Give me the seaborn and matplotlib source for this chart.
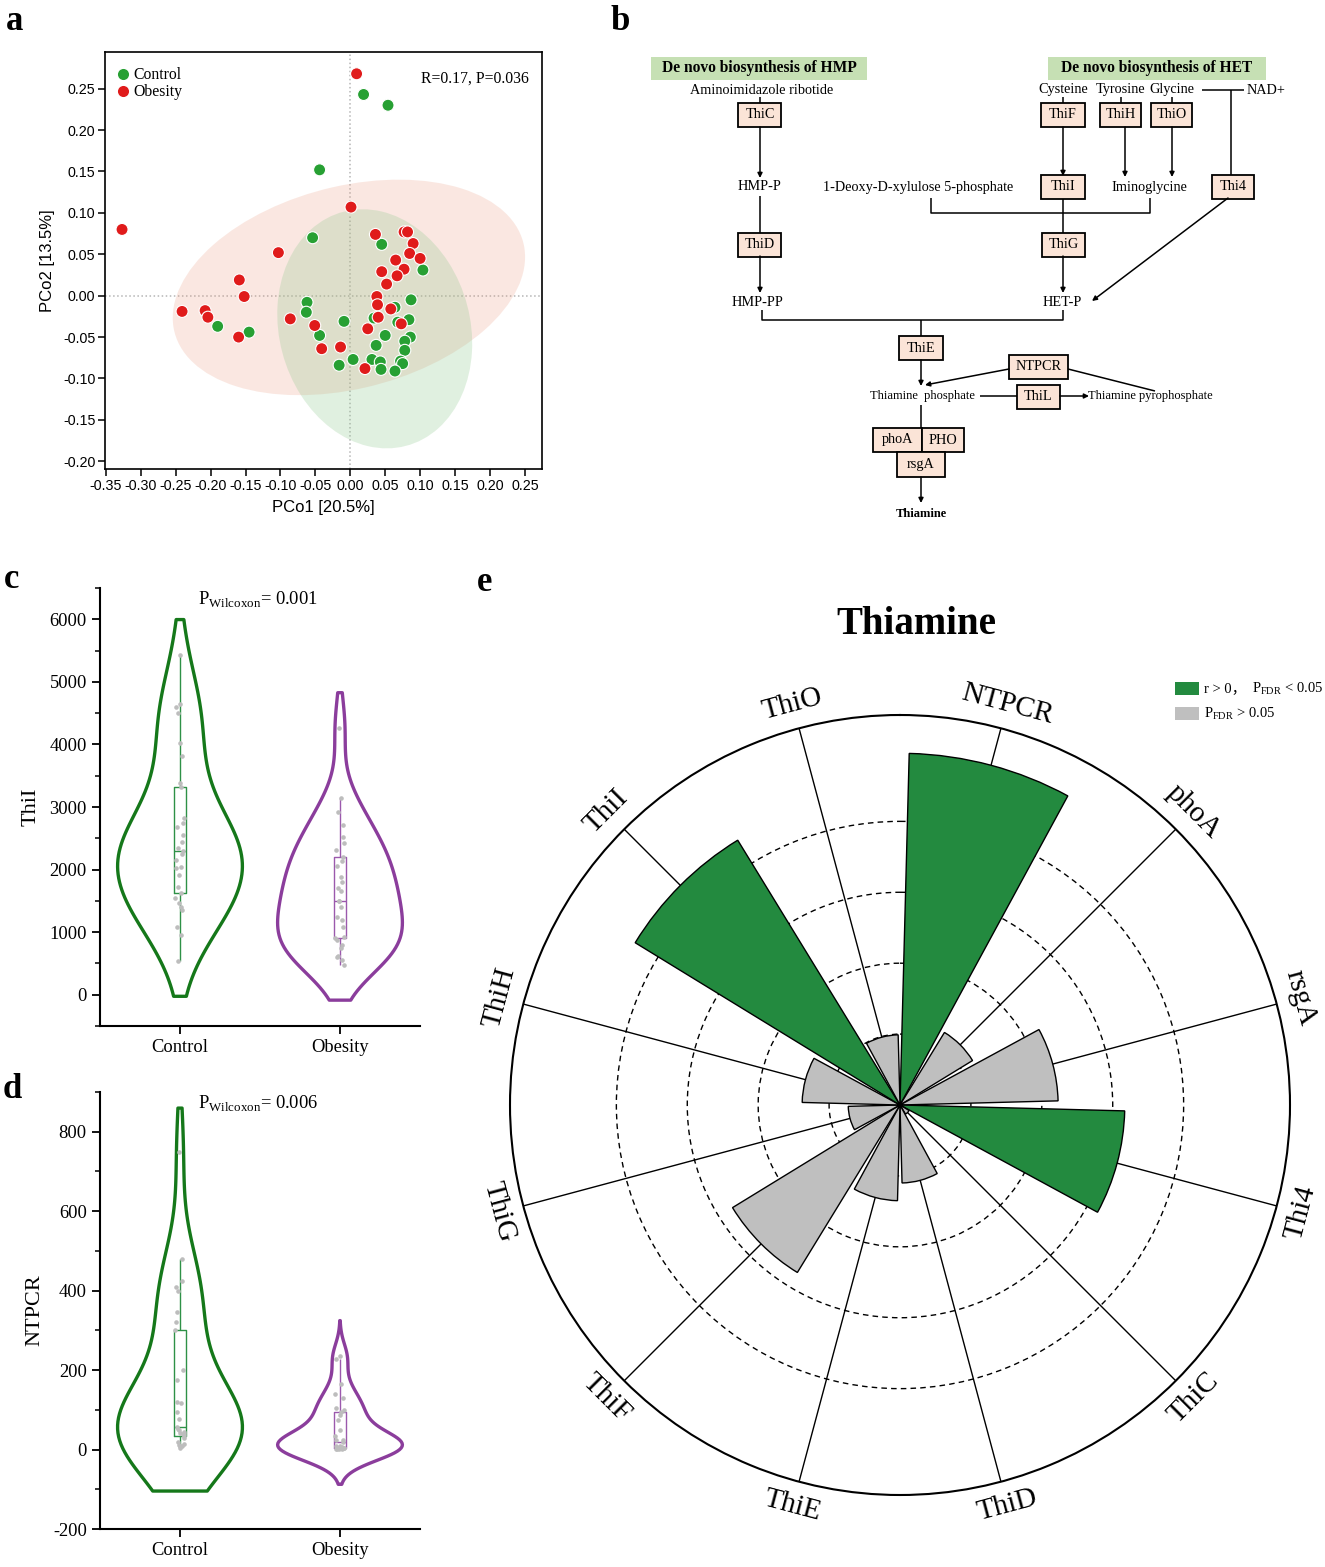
import numpy as np
import pandas as pd
import matplotlib
matplotlib.use("Agg")
import matplotlib.pyplot as plt
import seaborn as sns
from matplotlib.patches import Ellipse, Rectangle
from matplotlib.lines import Line2D
from matplotlib.ticker import MultipleLocator
from matplotlib.offsetbox import AnchoredOffsetbox, HPacker, VPacker, TextArea, DrawingArea

# ---- panel a: PCoA coordinates ----
pc1_control = [0.019, 0.054, -0.044, -0.054, 0.045, 0.104, 0.087, -0.062, -0.063, 0.064,
               0.034, -0.009, 0.068, 0.084, -0.190, -0.145, -0.044, 0.050, 0.086, 0.078,
               0.037, 0.078, -0.016, 0.004, 0.031, 0.043, 0.044, 0.072, 0.075, 0.064]
pc2_control = [0.243, 0.230, 0.152, 0.070, 0.062, 0.031, -0.005, -0.008, -0.020, -0.014,
               -0.027, -0.031, -0.032, -0.029, -0.037, -0.044, -0.048, -0.048, -0.050, -0.055,
               -0.060, -0.066, -0.084, -0.077, -0.077, -0.080, -0.089, -0.079, -0.082, -0.091]
pc1_obesity = [0.009, 0.001, -0.327, 0.036, 0.077, 0.082, 0.090, -0.103, 0.085, 0.100,
               0.065, 0.045, 0.077, 0.067, 0.052, -0.159, -0.152, 0.038, 0.039, 0.058,
               0.040, -0.241, -0.208, -0.204, -0.086, -0.051, 0.025, 0.073, -0.160, -0.041,
               -0.014, 0.021]
pc2_obesity = [0.268, 0.107, 0.080, 0.074, 0.077, 0.077, 0.063, 0.052, 0.051, 0.045,
               0.043, 0.029, 0.032, 0.024, 0.014, 0.019, -0.001, -0.001, -0.011, -0.016,
               -0.026, -0.019, -0.018, -0.026, -0.028, -0.036, -0.040, -0.034, -0.050, -0.064,
               -0.062, -0.088]
# confidence ellipses (centre and covariance in PCo units)
ell_center = {"Obesity": (-0.002, 0.010), "Control": (0.035, -0.040)}
ell_cov = {"Obesity": [[0.06369, 0.009269], [0.009269, 0.016937]],
           "Control": [[0.019491, -0.002473], [-0.002473, 0.020843]]}

# ---- panels c / d: gene abundance per sample ----
groups = ["Control", "Obesity"]
thiI_control = [540, 950, 1090, 1350, 1400, 1460, 1540, 1620, 1720, 1920, 2020, 2040, 2150,
                2250, 2300, 2340, 2440, 2550, 2680, 2750, 2820, 3320, 3380, 3820, 4030, 4500,
                4600, 4650, 5430]
thiI_obesity = [470, 560, 600, 620, 740, 790, 870, 900, 930, 1080, 1190, 1250, 1400, 1490,
                1500, 1650, 1700, 1800, 1880, 2050, 2130, 2200, 2310, 2420, 2520, 2710, 2920,
                3140, 4270]
ntpcr_control = [5, 8, 10, 12, 15, 20, 30, 35, 38, 40, 42, 45, 48, 52, 56, 78, 95, 118, 120,
                 175, 200, 300, 320, 345, 400, 410, 425, 480, 750]
ntpcr_obesity = [1, 1, 2, 2, 3, 3, 4, 4, 5, 5, 5, 6, 8, 10, 20, 23, 25, 35, 50, 75, 88, 95,
                 100, 105, 130, 140, 165, 228, 236]

# ---- panel e: correlation with thiamine ----
genes = ["NTPCR", "phoA", "rsgA", "Thi4", "ThiC", "ThiD", "ThiE", "ThiF", "ThiG", "ThiH",
         "ThiI", "ThiO"]
corr_r = [0.496, 0.120, 0.223, 0.317, 0.015, 0.110, 0.135, 0.277, 0.073, 0.138, 0.438, 0.099]
significant = [True, False, False, True, False, False, False, False, False, False, True, False]

W, H = 1325, 1567
GREEN_PT, RED_PT = "#27a033", "#e01b1b"
VIO_GREEN, VIO_PURPLE = "#15781a", "#8b3d9c"
BOX_GREEN, BOX_PURPLE = "#2e9147", "#9b59ad"
BAR_GREEN, BAR_GRAY = "#238a3f", "#bfbfbf"

sns.set_theme(style="ticks")
plt.rcParams["font.family"] = ["Liberation Serif", "Noto Sans CJK SC"]
plt.rcParams["axes.unicode_minus"] = False
plt.rcParams["mathtext.fontset"] = "custom"
plt.rcParams["mathtext.rm"] = "Liberation Serif"
for key in ("text.color", "axes.labelcolor", "xtick.color", "ytick.color", "axes.edgecolor"):
    plt.rcParams[key] = "black"

fig = plt.figure(figsize=(W / 100, H / 100), dpi=100)
fig.patch.set_facecolor("white")


def fax(x0, y0, x1, y1, **kw):
    return fig.add_axes([x0 / W, 1 - y1 / H, (x1 - x0) / W, (y1 - y0) / H], **kw)


# ================= a =================
ax_a = fax(105, 52, 542, 469)
fill = {"Obesity": ("#e9967a", 0.22), "Control": ("#8fc98f", 0.27)}
for grp in ["Obesity", "Control"]:
    vals, vecs = np.linalg.eigh(np.array(ell_cov[grp]))
    ang = np.degrees(np.arctan2(vecs[1, 1], vecs[0, 1]))
    ax_a.add_patch(Ellipse(ell_center[grp], 2 * np.sqrt(vals[1]), 2 * np.sqrt(vals[0]),
                           angle=ang, facecolor=fill[grp][0], alpha=fill[grp][1],
                           edgecolor="none", zorder=1))
df_pcoa = pd.DataFrame({
    "PCo1": pc1_control + pc1_obesity,
    "PCo2": pc2_control + pc2_obesity,
    "Group": ["Control"] * len(pc1_control) + ["Obesity"] * len(pc1_obesity)})
sns.scatterplot(data=df_pcoa, x="PCo1", y="PCo2", hue="Group",
                palette={"Control": GREEN_PT, "Obesity": RED_PT}, s=75,
                edgecolor="white", linewidth=0.8, legend=False, ax=ax_a, zorder=3)
ax_a.axvline(0, color="#b5b5b5", ls=":", lw=1.1, zorder=0.5)
ax_a.axhline(0, color="#b5b5b5", ls=":", lw=1.1, zorder=0.5)
ax_a.set_xlim(-0.3514, 0.2746)
ax_a.set_ylim(-0.2093, 0.2943)
xt = np.round(np.arange(-7, 6) * 0.05, 2)
yt = np.round(np.arange(-4, 6) * 0.05, 2)
ax_a.set_xticks(xt)
ax_a.set_xticklabels([f"{v:.2f}" for v in xt], family="Liberation Sans", fontsize=10.3)
ax_a.set_yticks(yt)
ax_a.set_yticklabels([f"{v:.2f}" for v in yt], family="Liberation Sans", fontsize=10.3)
ax_a.tick_params(length=5, width=1.1, pad=2, colors="black")
for sp in ax_a.spines.values():
    sp.set_linewidth(1.2)
    sp.set_color("black")
ax_a.set_xlabel("PCo1 [20.5%]", family="Liberation Sans", fontsize=12, labelpad=5)
ax_a.set_ylabel("PCo2 [13.5%]", family="Liberation Sans", fontsize=12, labelpad=6)
handles = [Line2D([], [], marker="o", ls="", markersize=9, markerfacecolor=c,
                  markeredgecolor="white") for c in (GREEN_PT, RED_PT)]
ax_a.legend(handles, groups, loc="upper left", bbox_to_anchor=(0.01, 0.975),
            frameon=False, fontsize=11.3, handletextpad=0.05, borderaxespad=0.0,
            labelspacing=0.08, handlelength=1.2, borderpad=0.3)
ax_a.text(0.97, 0.935, "R=0.17, P=0.036", transform=ax_a.transAxes, ha="right",
          va="center", fontsize=11.3)

# ================= b =================
ax_b = fax(600, 40, 1325, 540)
ax_b.set_xlim(600, 1325)
ax_b.set_ylim(540, 40)
ax_b.axis("off")
FS = 10.3


def gene_box(cx, cy, label, w=43, h=24):
    ax_b.add_patch(Rectangle((cx - w / 2, cy - h / 2), w, h, facecolor="#fbe4d7",
                             edgecolor="black", lw=1.3, zorder=2))
    ax_b.text(cx, cy, label, ha="center", va="center", fontsize=FS, zorder=3)


def line(xs, ys):
    ax_b.plot(xs, ys, color="black", lw=1.1, zorder=1, solid_capstyle="butt")


def arrow(x1, y1, x2, y2):
    ax_b.annotate("", xy=(x2, y2), xytext=(x1, y1),
                  arrowprops=dict(arrowstyle="-|>", color="black", lw=1.1,
                                  mutation_scale=7, shrinkA=0, shrinkB=0))


def label(x, y, s, ha="center", **kw):
    ax_b.text(x, y, s, ha=ha, va="center", fontsize=kw.pop("fs", FS), **kw)


for x0, w, s in [(651, 216, "De novo biosynthesis of HMP"), (1048, 218, "De novo biosynthesis of HET")]:
    ax_b.add_patch(Rectangle((x0, 57), w, 23, facecolor="#c6e0b4", edgecolor="none"))
    label(x0 + w / 2, 68.5, s, fs=11.2, fontweight="bold")

label(762, 90, "Aminoimidazole ribotide")
line([760, 760], [97, 103])
gene_box(760, 115, "ThiC")
arrow(760, 127, 760, 178)
label(760, 187, "HMP-P")
line([760, 760], [196, 233])
gene_box(760, 244.5, "ThiD")
arrow(760, 256, 760, 293)
label(758, 302, "HMP-PP")
line([762, 762, 1063, 1063], [310, 320, 320, 310])
line([921, 921], [320, 336])
gene_box(921, 348, "ThiE", w=44)
arrow(921, 360, 921, 386)
label(922, 396, "Thiamine  phosphate", fs=9)
gene_box(1038.5, 367, "NTPCR", w=59)
arrow(1009, 369, 925, 385)
line([1068, 1155], [369, 391])
line([980, 1017], [396, 396])
gene_box(1038.5, 397, "ThiL")
arrow(1060, 396, 1089, 396)
label(1088, 396, "Thiamine pyrophosphate", ha="left", fs=9)
line([921, 921], [405, 428])
gene_box(897.5, 440, "phoA", w=49)
gene_box(943, 440, "PHO", w=42)
gene_box(921, 464.5, "rsgA", w=48, h=25)
arrow(921, 477, 921, 503)
label(921, 514, "Thiamine", fs=9, fontweight="bold")

for cx, s in [(1063, "Cysteine"), (1121, "Tyrosine"), (1172, "Glycine")]:
    label(cx, 90, s)
    line([cx, cx], [97, 103])
gene_box(1063, 115, "ThiF", w=44)
gene_box(1121, 115, "ThiH", w=41)
gene_box(1172, 115, "ThiO", w=41)
arrow(1063, 127, 1063, 176)
arrow(1125, 127, 1125, 177)
arrow(1172, 127, 1172, 177)
line([1202, 1244], [90, 90])
label(1247, 90, "NAD+", ha="left")
line([1231, 1231], [90, 175])
gene_box(1233, 186.5, "Thi4", w=42)
arrow(1228, 198, 1092, 301)
label(918, 187, "1-Deoxy-D-xylulose 5-phosphate")
gene_box(1063, 187, "ThiI", w=44)
label(1149, 187, "Iminoglycine")
line([931, 931, 1150, 1150], [198, 213, 213, 198])
line([1063, 1063], [199, 233])
gene_box(1063.5, 244.5, "ThiG")
arrow(1063, 256, 1063, 293)
label(1062, 302, "HET-P")


# ================= c / d =================
def violin_panel(ax, ctrl, obes, ylim, major, minor, ylab, ptxt, cuts, bws):
    for vals, col, bcol, cut, bw in [(ctrl, VIO_GREEN, BOX_GREEN, cuts[0], bws[0]),
                                     (obes, VIO_PURPLE, BOX_PURPLE, cuts[1], bws[1])]:
        grp = "Control" if vals is ctrl else "Obesity"
        xs = [grp] * len(vals)
        sns.violinplot(x=xs, y=vals, order=groups, color=col, fill=False, linewidth=2.4,
                       inner=None, cut=cut, bw_adjust=bw, density_norm="width",
                       width=0.78, ax=ax)
        sns.boxplot(x=xs, y=vals, order=groups, color=bcol, fill=False, linewidth=1.0,
                    width=0.07, showcaps=False, showfliers=False, ax=ax)
        sns.stripplot(x=xs, y=vals, order=groups, color="#bdbdbd", size=3.3,
                      jitter=0.03, ax=ax, zorder=4)
    ax.set_xlim(-0.5, 1.5)
    ax.set_ylim(*ylim)
    ax.yaxis.set_major_locator(MultipleLocator(major))
    ax.yaxis.set_minor_locator(MultipleLocator(minor))
    ax.set_yticks(np.arange(ylim[0] if ylim[0] % major == 0 else 0, ylim[1], major))
    sns.despine(ax=ax)
    for sp in ("left", "bottom"):
        ax.spines[sp].set_linewidth(1.5)
        ax.spines[sp].set_color("black")
    ax.tick_params(which="major", length=6, width=1.3, colors="black", labelsize=13.3)
    ax.tick_params(which="minor", length=3.5, width=1.1, colors="black", left=True)
    ax.set_xlabel("")
    ax.set_ylabel(ylab, fontsize=16, labelpad=6)
    ax.text(0.494, 0.975, ptxt, transform=ax.transAxes, ha="center", va="center",
            fontsize=13.3)


ax_c = fax(100, 588, 420, 1026)
violin_panel(ax_c, thiI_control, thiI_obesity, (-500, 6500), 1000, 500, "ThiI",
             r"P$_{\mathregular{Wilcoxon}}$= 0.001", (0.9, 1.2), (1.0, 1.0))
ax_d = fax(100, 1092, 420, 1529)
violin_panel(ax_d, ntpcr_control, ntpcr_obesity, (-200, 900), 200, 100, "NTPCR",
             r"P$_{\mathregular{Wilcoxon}}$= 0.006", (0.95, 2.5), (1.2, 1.0))

# ================= e =================
ax_e = fax(510, 715, 1290, 1495, projection="polar")
theta = np.deg2rad(15 + 30 * np.arange(len(genes)))
ax_e.bar(theta, corr_r, width=np.deg2rad(27),
         color=[BAR_GREEN if s else BAR_GRAY for s in significant],
         edgecolor="black", linewidth=1.0, zorder=3)
ax_e.set_theta_zero_location("N")
ax_e.set_theta_direction(-1)
ax_e.set_ylim(0, 0.55)
ax_e.set_yticks([0.1, 0.2, 0.3, 0.4])
ax_e.set_yticklabels([])
ax_e.set_xticks(theta)
ax_e.set_xticklabels([])
ax_e.xaxis.grid(True, color="black", lw=1.0, ls="-")
ax_e.yaxis.grid(True, color="black", lw=1.0, ls=(0, (4, 3)))
ax_e.spines["polar"].set_linewidth(1.5)
ax_e.spines["polar"].set_color("black")
ax_e.set_axisbelow(True)
ax_e.set_facecolor("white")
for t, g in zip(theta, genes):
    math_ang = 90 - np.degrees(t)
    rot = (math_ang - 90 + 180) % 360 - 180
    if rot > 90:
        rot -= 180
    elif rot < -90:
        rot += 180
    ax_e.text(t, 0.585, g, rotation=rot, rotation_mode="anchor", ha="center",
              va="center", fontsize=21)
fig.text(916 / W, 1 - 625 / H, "Thiamine", fontsize=28, fontweight="bold",
         ha="center", va="center")


def legend_row(color, parts):
    da = DrawingArea(17, 9, 0, 0)
    da.add_artist(Rectangle((0, 0), 17, 9, facecolor=color, edgecolor="none"))
    items = [da] + [TextArea(s, textprops=dict(fontsize=10.5, family=fam, color="black"))
                    for s, fam in parts]
    return HPacker(children=items, align="center", pad=0, sep=4)


serif = ["Liberation Serif", "Noto Sans CJK SC"]
rows = [legend_row(BAR_GREEN, [("r > 0，", serif), (r"P$_{\mathregular{FDR}}$ < 0.05", serif)]),
        legend_row(BAR_GRAY, [(r"P$_{\mathregular{FDR}}$ > 0.05", serif)])]
leg = AnchoredOffsetbox(loc="upper left", child=VPacker(children=rows, align="left", pad=0, sep=6),
                        bbox_to_anchor=(1175 / W, 1 - 680 / H), bbox_transform=fig.transFigure,
                        frameon=False, pad=0, borderpad=0)
ax_e.add_artist(leg)

# panel letters
for x, y, s in [(15, 22, "a"), (620, 22, "b"), (12, 580, "c"), (12, 1090, "d"), (485, 583, "e")]:
    fig.text(x / W, 1 - y / H, s, fontsize=25, fontweight="bold", ha="center", va="center")

fig.savefig("out.png", dpi=100, facecolor="white")
